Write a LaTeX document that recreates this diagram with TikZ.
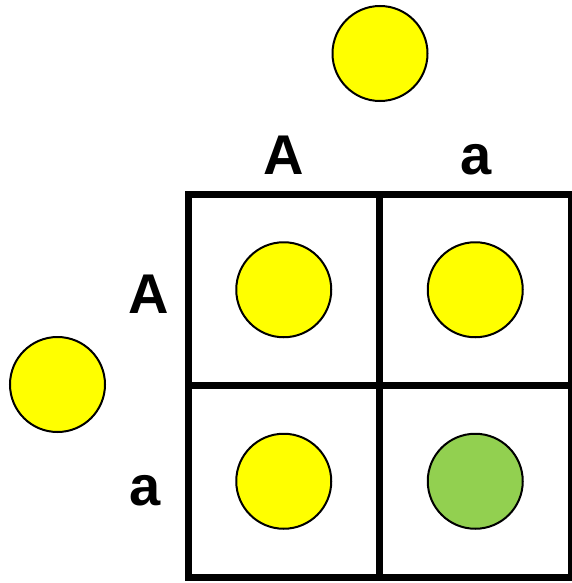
\documentclass[tikz,border=0pt]{standalone}
\usepackage{fontspec}
\setmainfont{Liberation Sans}
\usetikzlibrary{positioning}

\definecolor{dom}{HTML}{FFFF00}
\definecolor{rec}{HTML}{92D050}

\tikzset{
    cell/.style = {
        rectangle,
        minimum size=191.5pt,
        inner sep=0pt,
        draw=black,
        line width=7pt
    },
    pea/.style = {
        circle,
        minimum size=95pt,
        inner sep=0pt,
        draw=black,
        line width=2pt,
        fill=dom
    },
    allele/.style = {
        font=\fontsize{56}{64}\selectfont\bfseries,
        anchor=base,
        inner sep=0pt
    }
}

\begin{document}
\begin{tikzpicture}[x=1pt, y=-1pt] % one unit per pixel, y down

\useasboundingbox (0,0) rectangle (572,583);

% the 2x2 square
\node (cAA) [cell] at (283.75,289.75) {};
\node (cAa) [cell] at (475.25,289.75) {};
\node (caA) [cell] at (283.75,481.25) {};
\node (caa) [cell] at (475.25,481.25) {};

% parent gametes
\node (top) [pea] at (380,53.5) {};
\node (left) [pea] at (57.5,384.5) {};

% headers
\node (hA) [allele] at (284,174.5) {A};
\node (ha) [allele] at (476,174.5) {a};
\node (vA) [allele] at (149,313.5) {A};
\node (va) [allele] at (145,505.5) {a};

% offspring
\node (oAA) [pea] at (cAA.center) {};
\node (oAa) [pea] at (cAa.center) {};
\node (oaA) [pea] at (caA.center) {};
\node (oaa) [pea, fill=rec] at (caa.center) {};

\end{tikzpicture}
\end{document}
